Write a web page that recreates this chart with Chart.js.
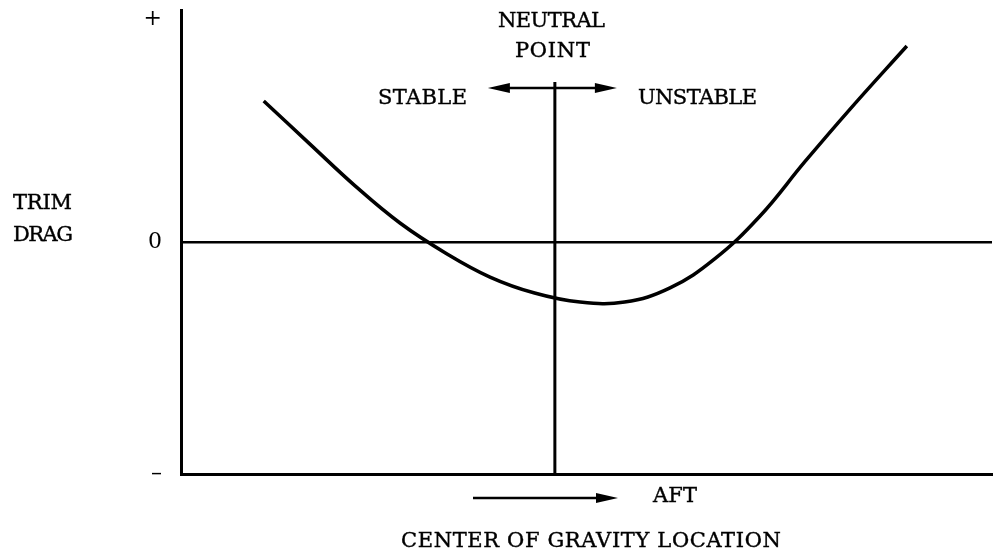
<!DOCTYPE html>
<html>
<head>
<meta charset="utf-8">
<script src="https://cdn.jsdelivr.net/npm/chart.js@4"></script>
<style>
  html, body { margin: 0; padding: 0; background: #fff; }
  canvas { display: block; }
</style>
</head>
<body>
<canvas id="c" width="996" height="557"></canvas>
<script>
// cg location (arbitrary units, fwd -> aft) and trim drag (- .. +)
const cgLoc = [1.02, 1.59, 2.15, 2.70, 3.26, 3.81, 4.36, 4.92, 5.47, 6.03, 6.58, 7.14, 7.69, 8.25, 8.95];
const trimDrag = [0.608, 0.422, 0.241, 0.082, -0.047, -0.151, -0.220, -0.259, -0.259, -0.198, -0.073, 0.112, 0.345, 0.573, 0.845];
const yTicks = [-1, 0, 0.96];
const yTickLabels = { '-1': '–', '0': '0', '0.96': '+' };
const neutralPoint = 4.61;

const FONT = '"DejaVu Serif", "Liberation Serif", serif';

// label text, left edge, width, centre y
const labels = [
  ['NEUTRAL', 498, 107, 22],
  ['POINT', 515, 75, 52],
  ['STABLE', 378, 89, 99],
  ['UNSTABLE', 638, 119, 99],
  ['TRIM', 13, 59, 204],
  ['DRAG', 13, 60, 236],
  ['AFT', 653, 44, 497],
  ['CENTER OF GRAVITY LOCATION', 401, 380, 542]
];

function arrow(ctx, x1, x2, y, both) {
  const hl = 22, hw = 5;
  ctx.beginPath();
  ctx.moveTo(x1 + (both ? hl - 2 : 0), y);
  ctx.lineTo(x2 - hl + 2, y);
  ctx.stroke();
  ctx.beginPath();
  ctx.moveTo(x2, y);
  ctx.lineTo(x2 - hl, y - hw);
  ctx.lineTo(x2 - hl, y + hw);
  ctx.closePath();
  ctx.fill();
  if (both) {
    ctx.beginPath();
    ctx.moveTo(x1, y);
    ctx.lineTo(x1 + hl, y - hw);
    ctx.lineTo(x1 + hl, y + hw);
    ctx.closePath();
    ctx.fill();
  }
}

// typewriter look: stretch each label to the width it has in the original
function fitText(ctx, s, left, width, y) {
  ctx.letterSpacing = '0px';
  const w0 = ctx.measureText(s).width;
  const sp = (width - w0) / (s.length - 1);
  ctx.letterSpacing = sp.toFixed(2) + 'px';
  ctx.fillText(s, left, y);
  ctx.strokeText(s, left, y);
}

const extras = {
  id: 'extras',
  afterDraw(chart) {
    const ctx = chart.ctx;
    const x = chart.scales.x;
    const nx = x.getPixelForValue(neutralPoint);
    ctx.save();
    ctx.strokeStyle = '#000';
    ctx.fillStyle = '#000';

    // neutral point line
    ctx.lineWidth = 3;
    ctx.beginPath();
    ctx.moveTo(nx, 82);
    ctx.lineTo(nx, chart.chartArea.bottom + 2);
    ctx.stroke();

    // stable / unstable arrow
    ctx.lineWidth = 2.5;
    arrow(ctx, nx - 67, nx + 62, 88, true);
    // aft arrow
    arrow(ctx, 473, 618, 498, false);

    ctx.font = '21px ' + FONT;
    ctx.lineWidth = 0.4;
    ctx.textAlign = 'left';
    ctx.textBaseline = 'middle';
    labels.forEach(l => fitText(ctx, l[0], l[1], l[2], l[3]));
    ctx.restore();
  }
};

new Chart(document.getElementById('c'), {
  type: 'line',
  data: {
    datasets: [{
      data: cgLoc.map((v, i) => ({ x: v, y: trimDrag[i] })),
      borderColor: '#000',
      borderWidth: 3.5,
      pointRadius: 0,
      tension: 0.4,
      fill: false
    }]
  },
  options: {
    responsive: false,
    animation: false,
    devicePixelRatio: 1,
    layout: { padding: { top: 10, right: 4, left: 0, bottom: 0 } },
    plugins: { legend: { display: false }, tooltip: { enabled: false } },
    scales: {
      x: {
        type: 'linear',
        min: 0,
        max: 10,
        grid: { display: false },
        border: { color: '#000', width: 3 },
        ticks: { display: false },
        afterFit(s) { s.height = 83; s.paddingLeft = 0; s.paddingRight = 0; }
      },
      y: {
        min: -1,
        max: 1,
        afterBuildTicks(s) { s.ticks = yTicks.map(v => ({ value: v })); },
        border: { color: '#000', width: 3 },
        grid: {
          drawTicks: false,
          color: c => (c.tick && c.tick.value === 0 ? '#000' : 'rgba(0,0,0,0)'),
          lineWidth: 2.5
        },
        ticks: {
          padding: 19,
          color: '#000',
          font: { family: FONT, size: 22 },
          callback: v => yTickLabels[String(v)] || ''
        },
        afterFit(s) { s.width = 181; s.paddingTop = 0; s.paddingBottom = 0; }
      }
    }
  },
  plugins: [extras]
});
</script>
</body>
</html>
